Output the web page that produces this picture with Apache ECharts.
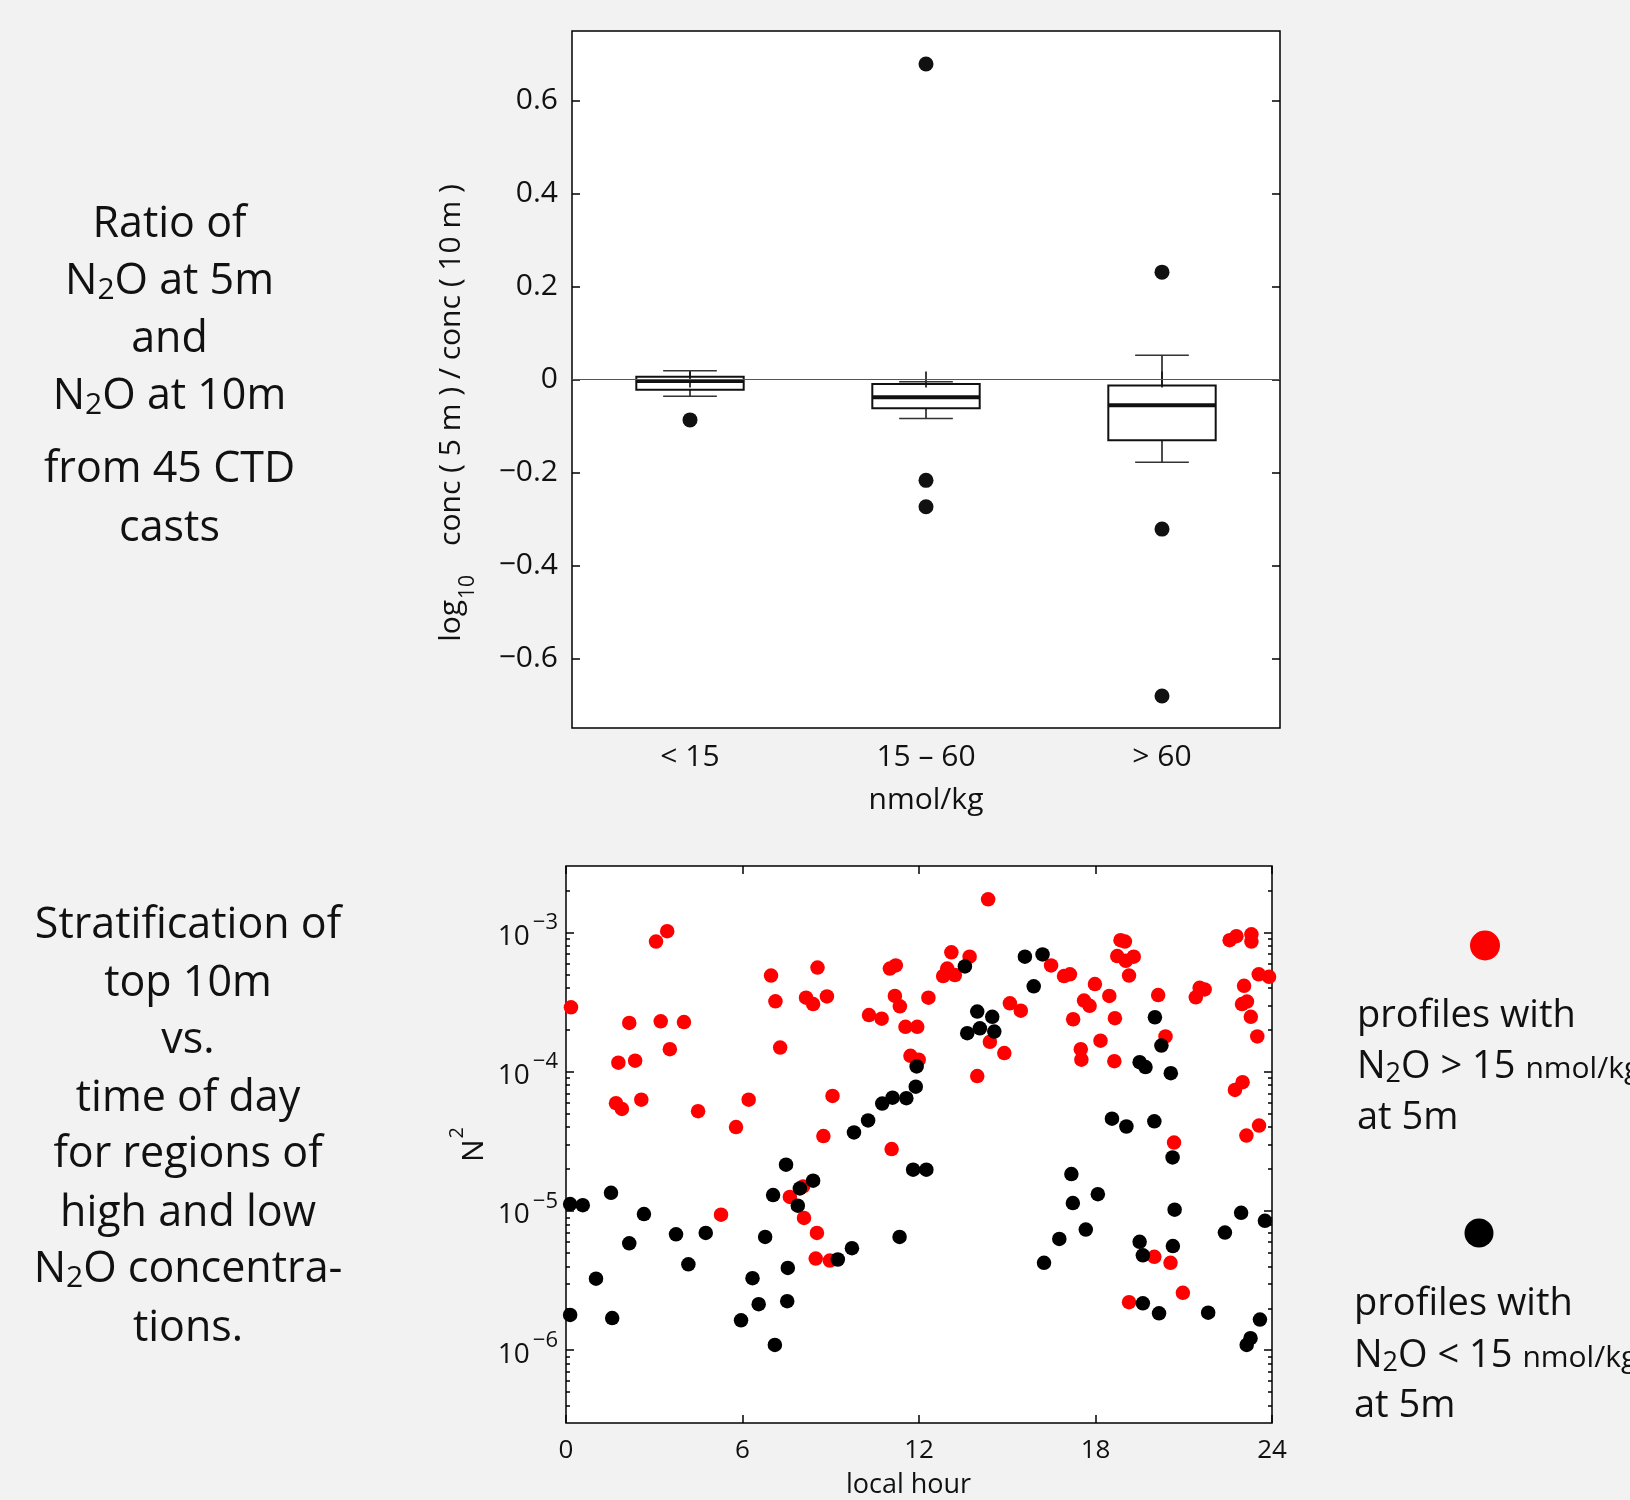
<!DOCTYPE html>
<html>
<head>
<meta charset="utf-8">
<script src="https://cdn.jsdelivr.net/npm/echarts@6/dist/echarts.min.js"></script>
<style>
html,body{margin:0;padding:0;background:#f2f2f2;}
#c{width:1630px;height:1500px;}
</style>
</head>
<body>
<div id="c"></div>
<script>
// ---------------- DATA ----------------
// Top panel: box plot of log10 ratio by N2O class
const boxCategories = ['< 15', '15 \u2013 60', '> 60'];
const whiskerLow  = [-0.036, -0.084, -0.178];
const quartile1   = [-0.022, -0.062, -0.131];
const medians     = [-0.003, -0.038, -0.0555];
const quartile3   = [0.006, -0.0095, -0.0127];
const whiskerHigh = [0.019, -0.005, 0.052];
const outlierGroup = [0, 1, 1, 1, 2, 2, 2];
const outlierValue = [-0.087, 0.679, -0.217, -0.274, 0.231, -0.322, -0.681];
const ratioTicks = [-0.6, -0.4, -0.2, 0, 0.2, 0.4, 0.6];

// Bottom panel: N^2 vs local hour
const hourTicks = [0, 6, 12, 18, 24];
const n2Decades = [1e-6, 1e-5, 1e-4, 1e-3];
const highHour = [0.17, 3.06, 3.44, 2.15, 3.22, 4.01, 3.53, 1.78, 2.35, 1.70, 1.90, 2.56, 4.49, 5.78, 6.21, 6.97, 7.12, 7.28, 8.55, 8.16,
  8.40, 8.87, 9.06, 8.75, 10.30, 10.73, 11.01, 11.21, 11.18, 11.35, 11.54, 11.94, 11.71, 11.99, 11.07, 13.98, 14.35, 13.10, 13.72, 12.96,
  12.82, 13.22, 12.32, 15.09, 15.46, 14.41, 14.90, 16.49, 16.93, 17.13, 17.98, 17.61, 17.80, 17.24, 18.47, 18.66, 18.17, 17.50, 17.52, 18.64,
  18.85, 19.00, 18.74, 19.03, 19.30, 19.14, 20.13, 20.38, 20.67, 21.41, 21.54, 21.71, 22.56, 22.79, 23.30, 23.30, 23.05, 23.55, 23.90, 22.98,
  23.15, 23.28, 23.50, 22.74, 23.00, 23.13, 23.56, 5.27, 7.61, 8.06, 8.09, 8.53, 8.49, 8.97, 20.00, 20.55, 19.14, 20.97];
const highN2 = [2.9e-4, 8.6e-4, 1.02e-3, 2.24e-4, 2.3e-4, 2.27e-4, 1.45e-4, 1.16e-4, 1.2e-4, 5.94e-5, 5.4e-5, 6.3e-5, 5.2e-5, 4.0e-5, 6.3e-5, 4.9e-4, 3.2e-4, 1.49e-4, 5.6e-4, 3.4e-4,
  3.06e-4, 3.47e-4, 6.7e-5, 3.45e-5, 2.55e-4, 2.4e-4, 5.5e-4, 5.8e-4, 3.5e-4, 2.95e-4, 2.1e-4, 2.1e-4, 1.3e-4, 1.22e-4, 2.78e-5, 9.3e-5, 1.73e-3, 7.2e-4, 6.7e-4, 5.5e-4,
  4.86e-4, 4.94e-4, 3.4e-4, 3.1e-4, 2.74e-4, 1.64e-4, 1.36e-4, 5.8e-4, 4.86e-4, 5.0e-4, 4.26e-4, 3.24e-4, 2.97e-4, 2.38e-4, 3.5e-4, 2.42e-4, 1.67e-4, 1.45e-4, 1.22e-4, 1.19e-4,
  8.8e-4, 8.6e-4, 6.76e-4, 6.25e-4, 6.7e-4, 4.9e-4, 3.55e-4, 1.79e-4, 3.1e-5, 3.42e-4, 4.0e-4, 3.9e-4, 8.8e-4, 9.4e-4, 9.7e-4, 8.6e-4, 4.14e-4, 5.0e-4, 4.8e-4, 3.06e-4,
  3.19e-4, 2.48e-4, 1.79e-4, 7.4e-5, 8.4e-5, 3.48e-5, 4.1e-5, 9.4e-6, 1.26e-5, 1.5e-5, 8.9e-6, 6.95e-6, 4.55e-6, 4.4e-6, 4.68e-6, 4.24e-6, 2.21e-6, 2.58e-6];
const lowHour = [11.92, 11.89, 10.75, 11.10, 11.57, 10.27, 9.79, 7.48, 11.80, 12.25, 13.56, 15.60, 16.20, 15.90, 13.98, 14.49, 13.64, 14.07, 14.56, 20.02,
  20.24, 19.50, 19.70, 20.56, 18.56, 19.05, 20.00, 20.62, 17.18, 0.14, 0.57, 1.53, 2.65, 2.15, 1.02, 0.14, 1.57, 3.74, 4.75, 4.16,
  8.40, 7.95, 7.04, 7.88, 6.77, 9.72, 9.24, 7.54, 6.34, 6.55, 7.52, 5.95, 7.10, 11.34, 17.23, 18.08, 17.67, 16.77, 16.25, 19.50,
  19.61, 20.63, 20.69, 19.61, 20.16, 21.83, 22.40, 22.95, 23.76, 23.59, 23.14, 23.27];
const lowN2 = [1.09e-4, 7.8e-5, 5.9e-5, 6.5e-5, 6.45e-5, 4.47e-5, 3.66e-5, 2.15e-5, 1.98e-5, 1.98e-5, 5.7e-4, 6.7e-4, 6.95e-4, 4.1e-4, 2.7e-4, 2.48e-4, 1.89e-4, 2.05e-4, 1.94e-4, 2.46e-4,
  1.54e-4, 1.17e-4, 1.08e-4, 9.75e-5, 4.6e-5, 4.04e-5, 4.4e-5, 2.42e-5, 1.84e-5, 1.12e-5, 1.1e-5, 1.35e-5, 9.5e-6, 5.86e-6, 3.26e-6, 1.79e-6, 1.7e-6, 6.8e-6, 6.95e-6, 4.14e-6,
  1.65e-5, 1.45e-5, 1.3e-5, 1.09e-5, 6.5e-6, 5.4e-6, 4.48e-6, 3.9e-6, 3.29e-6, 2.14e-6, 2.25e-6, 1.64e-6, 1.09e-6, 6.5e-6, 1.14e-5, 1.32e-5, 7.35e-6, 6.3e-6, 4.24e-6, 6.0e-6,
  4.8e-6, 5.6e-6, 1.02e-5, 2.17e-6, 1.84e-6, 1.86e-6, 7.0e-6, 9.7e-6, 8.5e-6, 1.66e-6, 1.09e-6, 1.22e-6];

// Text
const topNoteLines = ['Ratio of', 'N\u2082O at 5m', 'and', 'N\u2082O at 10m', 'from 45 CTD', 'casts'];
const bottomNoteLines = ['Stratification of', 'top 10m', 'vs.', 'time of day', 'for regions of', 'high and low', 'N\u2082O concentra-', 'tions.'];
const legendHighLines = ['profiles with', 'N\u2082O > 15 |nmol/kg', 'at 5m'];
const legendLowLines = ['profiles with', 'N\u2082O < 15 |nmol/kg', 'at 5m'];

// ---------------- LAYOUT ----------------
const FONT = "'Open Sans', 'Noto Sans', sans-serif";
const INK = '#111';
const N2_MIN = 3e-7, N2_MAX = 3e-3;
const topNoteBaselines = [238, 295, 353, 410, 483, 542];
const bottomNoteBaselines = [939, 997, 1054, 1112, 1168, 1227, 1283, 1342];
const legendHighBaselines = [1027, 1078, 1129];
const legendLowBaselines = [1315, 1367, 1417];

const majorLog = n2Decades.map(v => Math.log10(v));
const minorLog = [];
[-7, -6, -5, -4, -3].forEach(e => [2, 3, 4, 5, 6, 7, 8, 9].forEach(k => {
  const v = Math.log10(k) + e;
  if (v > Math.log10(N2_MIN) + 1e-6 && v < Math.log10(N2_MAX) - 1e-6) minorLog.push(v);
}));

function richLine(line) {
  const parts = line.split('|');
  let main = '{b|' + parts[0].replace(/\u2082/g, '}{sub|2}{b|') + '}';
  if (parts[1]) main += '{sm|' + parts[1] + '}';
  return main.replace(/\{b\|\}/g, '');
}
function noteText(line, x, baseline, size, align, lh) {
  const m = 0.36;
  const subSize = Math.round(size * 0.7);
  const smSize = Math.round(size * 0.8);
  return {
    type: 'text', x: x, y: baseline - m * size + 2.5, silent: true,
    style: {
      text: richLine(line), align: align, verticalAlign: 'middle',
      fill: INK, fontFamily: FONT, fontSize: size,
      rich: {
        b: {fontSize: size, lineHeight: lh, fill: INK, fontFamily: FONT, verticalAlign: 'middle'},
        sub: {fontSize: subSize, lineHeight: subSize, fill: INK, fontFamily: FONT, verticalAlign: 'bottom',
              padding: [0, 0, Math.max(0, lh / 2 - subSize / 2 - (m * size + 3.5 - m * subSize)), 0]},
        sm: {fontSize: smSize, lineHeight: smSize, fill: INK, fontFamily: FONT, verticalAlign: 'bottom',
             padding: [0, 0, Math.max(0, lh / 2 - smSize / 2 - (m * size - m * smSize)), 0]}
      }
    }
  };
}

const graphics = [];
topNoteLines.forEach((l, i) => graphics.push(noteText(l, 169.5, topNoteBaselines[i], 43, 'center', 52)));
bottomNoteLines.forEach((l, i) => graphics.push(noteText(l, 188, bottomNoteBaselines[i], 43, 'center', 52)));
legendHighLines.forEach((l, i) => graphics.push(noteText(l, 1357, legendHighBaselines[i], 38, 'left', 46)));
legendLowLines.forEach((l, i) => graphics.push(noteText(l, 1354, legendLowBaselines[i], 38, 'left', 46)));
graphics.push({type: 'circle', silent: true, shape: {cx: 1485, cy: 945.5, r: 15}, style: {fill: '#ff0000'}});
graphics.push({type: 'circle', silent: true, shape: {cx: 1479, cy: 1233, r: 14.5}, style: {fill: '#000'}});

const tickStyle = {color: '#000', width: 1.5};
const minusFmt = v => (v < 0 ? '\u2212' : '') + String(Math.abs(v));

const option = {
  backgroundColor: '#f2f2f2',
  animation: false,
  textStyle: {fontFamily: FONT},
  grid: [
    {left: 572, top: 31, width: 708, height: 697, show: true, backgroundColor: '#fff', borderColor: '#000', borderWidth: 1.5, containLabel: false, outerBoundsMode: 'none'},
    {left: 566, top: 866, width: 706, height: 557, show: true, backgroundColor: '#fff', borderColor: '#000', borderWidth: 1.5, containLabel: false, outerBoundsMode: 'none'}
  ],
  xAxis: [
    {gridIndex: 0, type: 'category', data: boxCategories, boundaryGap: true, position: 'bottom',
     axisLine: {show: false}, splitLine: {show: false},
     axisTick: {show: true, inside: true, alignWithLabel: true, length: 8, lineStyle: tickStyle},
     axisLabel: {color: INK, fontSize: 30, fontFamily: FONT, margin: 14, interval: 0},
     name: 'nmol/kg', nameLocation: 'middle', nameGap: 57, nameMoveOverlap: false,
     nameTextStyle: {color: INK, fontSize: 30, fontFamily: FONT}},
    {gridIndex: 0, type: 'category', data: boxCategories, boundaryGap: true, position: 'top',
     axisLine: {show: false}, splitLine: {show: false},
     axisTick: {show: true, inside: true, alignWithLabel: true, length: 8, lineStyle: tickStyle},
     axisLabel: {show: false}},
    {gridIndex: 1, type: 'value', min: 0, max: 24, interval: 6, position: 'bottom',
     axisLine: {show: false}, splitLine: {show: false},
     axisTick: {show: true, inside: true, length: 8, lineStyle: tickStyle},
     axisLabel: {color: INK, fontSize: 26, fontFamily: FONT, margin: 15},
     name: 'local hour', nameLocation: 'middle', nameGap: 49, nameMoveOverlap: false,
     nameTextStyle: {color: INK, fontSize: 27, fontFamily: FONT, padding: [0, 21, 0, 0]}},
    {gridIndex: 1, type: 'value', min: 0, max: 24, interval: 6, position: 'top',
     axisLine: {show: false}, splitLine: {show: false},
     axisTick: {show: true, inside: true, length: 8, lineStyle: tickStyle},
     axisLabel: {show: false}}
  ],
  yAxis: [
    {gridIndex: 0, type: 'value', min: -0.75, max: 0.75, position: 'left',
     axisLine: {show: false}, splitLine: {show: false},
     axisTick: {show: true, inside: true, length: 8, lineStyle: tickStyle, customValues: ratioTicks},
     axisLabel: {color: INK, fontSize: 30, fontFamily: FONT, margin: 14, customValues: ratioTicks, formatter: minusFmt},
     name: '{t|log}{sub|10}{t2|conc ( 5 m ) / conc ( 10 m )}', nameLocation: 'middle', nameRotate: 90, nameGap: 93, nameMoveOverlap: false,
     nameTextStyle: {color: INK, fontFamily: FONT, fontSize: 30, padding: [0, 67, 0, 0],
       rich: {
         t: {fontSize: 30, lineHeight: 36, verticalAlign: 'top', color: INK, fontFamily: FONT},
         sub: {fontSize: 21, verticalAlign: 'bottom', padding: [22, 0, 0, 1], color: INK, fontFamily: FONT},
         t2: {fontSize: 30, lineHeight: 36, verticalAlign: 'top', padding: [0, 0, 0, 29], color: INK, fontFamily: FONT}
       }}},
    {gridIndex: 0, type: 'value', min: -0.75, max: 0.75, position: 'right',
     axisLine: {show: false}, splitLine: {show: false},
     axisTick: {show: true, inside: true, length: 8, lineStyle: tickStyle, customValues: ratioTicks},
     axisLabel: {show: false}},
    // data axis (log scale)
    {gridIndex: 1, type: 'log', logBase: 10, min: N2_MIN, max: N2_MAX, position: 'left',
     axisLine: {show: false}, axisTick: {show: false}, axisLabel: {show: false}, splitLine: {show: false}},
    // major ticks + labels (decades), in log10 units of the same range
    {gridIndex: 1, type: 'value', min: Math.log10(N2_MIN), max: Math.log10(N2_MAX), position: 'left',
     axisLine: {show: false}, splitLine: {show: false},
     axisTick: {show: true, inside: true, length: 8, lineStyle: tickStyle, customValues: majorLog},
     axisLabel: {customValues: majorLog, margin: 8, color: INK, fontFamily: FONT, fontSize: 28, padding: [0, 0, 4, 0],
       formatter: v => '{ten|10}{ex|\u2212' + Math.round(-v) + '}',
       rich: {
         ten: {fontSize: 28, lineHeight: 41, verticalAlign: 'bottom', color: INK, fontFamily: FONT},
         ex: {fontSize: 22, verticalAlign: 'top', padding: [2, 0, 0, 3], color: INK, fontFamily: FONT}
       }},
     name: '{nn|N}{sq|2}', nameLocation: 'middle', nameRotate: 90, nameGap: 77, nameMoveOverlap: false,
     nameTextStyle: {color: INK, fontFamily: FONT, fontSize: 30,
       rich: {
         nn: {fontSize: 30, lineHeight: 42, verticalAlign: 'bottom', color: INK, fontFamily: FONT},
         sq: {fontSize: 20, verticalAlign: 'top', padding: [0, 0, 0, 1], color: INK, fontFamily: FONT}
       }}},
    {gridIndex: 1, type: 'value', min: Math.log10(N2_MIN), max: Math.log10(N2_MAX), position: 'left',
     axisLine: {show: false}, splitLine: {show: false}, axisLabel: {show: false},
     axisTick: {show: true, inside: true, length: 4, lineStyle: tickStyle, customValues: minorLog}},
    {gridIndex: 1, type: 'value', min: Math.log10(N2_MIN), max: Math.log10(N2_MAX), position: 'right',
     axisLine: {show: false}, splitLine: {show: false}, axisLabel: {show: false},
     axisTick: {show: true, inside: true, length: 8, lineStyle: tickStyle, customValues: majorLog}},
    {gridIndex: 1, type: 'value', min: Math.log10(N2_MIN), max: Math.log10(N2_MAX), position: 'right',
     axisLine: {show: false}, splitLine: {show: false}, axisLabel: {show: false},
     axisTick: {show: true, inside: true, length: 4, lineStyle: tickStyle, customValues: minorLog}}
  ],
  series: [
    {
      type: 'custom', name: 'box', xAxisIndex: 0, yAxisIndex: 0, silent: true,
      data: boxCategories.map((c, i) => [i, whiskerLow[i], quartile1[i], medians[i], quartile3[i], whiskerHigh[i]]),
      encode: {x: 0, y: [1, 2, 3, 4, 5]},
      renderItem: function (params, api) {
        const idx = api.value(0);
        const pLow = api.coord([idx, api.value(1)]);
        const pQ1 = api.coord([idx, api.value(2)]);
        const pMed = api.coord([idx, api.value(3)]);
        const pQ3 = api.coord([idx, api.value(4)]);
        const pHigh = api.coord([idx, api.value(5)]);
        const band = api.size([1, 0])[0];
        const bw = band * 0.455, cw = bw * 0.5, x = pMed[0];
        const seg = (x1, y1, x2, y2, w, c) => ({type: 'line', shape: {x1: x1, y1: y1, x2: x2, y2: y2}, style: {stroke: c, lineWidth: w}});
        return {type: 'group', children: [
          seg(x, pHigh[1], x, pQ3[1], 1.5, '#111'),
          seg(x, pQ1[1], x, pLow[1], 1.5, '#111'),
          seg(x - cw / 2, pHigh[1], x + cw / 2, pHigh[1], 1.5, '#333'),
          seg(x - cw / 2, pLow[1], x + cw / 2, pLow[1], 1.5, '#333'),
          {type: 'rect', shape: {x: x - bw / 2, y: pQ3[1], width: bw, height: pQ1[1] - pQ3[1]},
           style: {fill: 'none', stroke: '#111', lineWidth: 2}},
          seg(x - bw / 2, pMed[1], x + bw / 2, pMed[1], 4, '#111')
        ]};
      }
    },
    {
      type: 'scatter', name: 'outliers', xAxisIndex: 0, yAxisIndex: 0, silent: true,
      data: outlierGroup.map((g, i) => [g, outlierValue[i]]),
      symbol: 'circle', symbolSize: 15, itemStyle: {color: '#111', opacity: 1},
      markLine: {silent: true, symbol: ['none', 'none'], label: {show: false},
        lineStyle: {color: '#555', width: 1.2, type: 'solid', opacity: 1}, emphasis: {disabled: true},
        data: [{yAxis: 0}]}
    },
    {
      type: 'scatter', name: 'N2O > 15 nmol/kg', xAxisIndex: 2, yAxisIndex: 2, silent: true,
      data: highHour.map((h, i) => [h, highN2[i]]),
      symbol: 'circle', symbolSize: 14.5, itemStyle: {color: '#ff0000', opacity: 1}
    },
    {
      type: 'scatter', name: 'N2O < 15 nmol/kg', xAxisIndex: 2, yAxisIndex: 2, silent: true,
      data: lowHour.map((h, i) => [h, lowN2[i]]),
      symbol: 'circle', symbolSize: 14.5, itemStyle: {color: '#000', opacity: 1}
    }
  ],
  graphic: graphics
};

const chart = echarts.init(document.getElementById('c'), null, {renderer: 'canvas', width: 1630, height: 1500});
chart.setOption(option);
</script>
</body>
</html>
